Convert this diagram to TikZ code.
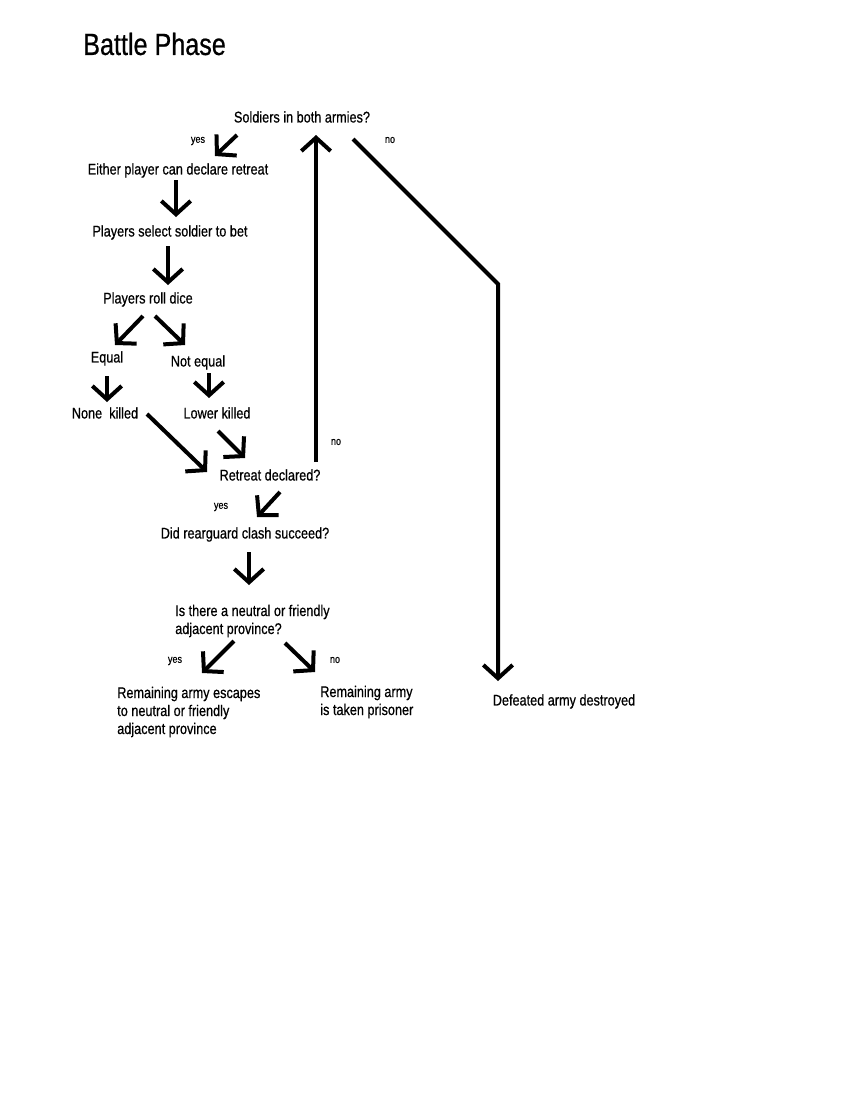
\documentclass[tikz,border=0pt]{standalone}
\usepackage{fontspec}
\setmainfont{Liberation Sans}[FakeStretch=0.82, FakeBold=0.6]
\usetikzlibrary{arrows.meta}
\begin{document}
\begin{tikzpicture}[x=0.75pt,y=-0.75pt,
  txt/.style={inner sep=0pt, text height=0.72em, text depth=0.2em,
    font=\fontsize{11.6pt}{13.5pt}\selectfont},
  multi/.style={inner sep=0pt, align=left, anchor=base west,
    font=\fontsize{11.6pt}{13.5pt}\selectfont},
  lbl/.style={inner sep=0pt, font=\fontsize{8.3pt}{9pt}\selectfont},
  arr/.style={line width=3pt, line join=miter,
    -{Straight Barb[length=10pt,width=22pt,line width=3pt]}}]
\useasboundingbox[fill=white] (0,0) rectangle (850,1100);

% heading
\node[inner sep=0pt, anchor=west, font=\fontsize{23pt}{26pt}\selectfont] (title) at (83,44) {Battle Phase};

% steps of the phase
\node[txt] (S)  at (302,119) {Soldiers in both armies?};
\node[txt] (E)  at (178,171) {Either player can declare retreat};
\node[txt] (P)  at (170,233) {Players select soldier to bet};
\node[txt] (R)  at (148,300) {Players roll dice};
\node[txt] (Eq) at (107,359) {Equal};
\node[txt] (NE) at (198,363) {Not equal};
\node[txt] (NK) at (105,415) {None\ \ killed};
\node[txt] (LK) at (217,415) {Lower killed};
\node[txt] (RD) at (270,477) {Retreat declared?};
\node[txt] (D)  at (245,535) {Did rearguard clash succeed?};
\node[multi] (IS) at (175,634) {Is there a neutral or friendly\\adjacent province?};
\node[multi] (RE) at (117,734) {Remaining army escapes\\to neutral or friendly\\adjacent province};
\node[multi] (RP) at (320,715) {Remaining army\\is taken prisoner};
\node[txt] (DA) at (564,702) {Defeated army destroyed};

% branch labels
\node[lbl] (y1) at (198,141) {yes};
\node[lbl] (n1) at (390,140) {no};
\node[lbl] (n2) at (336,442) {no};
\node[lbl] (y2) at (221,507) {yes};
\node[lbl] (y3) at (175,661) {yes};
\node[lbl] (n3) at (335,660) {no};

% connectors
\draw[arr] ([shift={(-65,16)}]S.center) -- ([shift={(37,-15)}]E.center);
\draw[arr] ([shift={(-2,9)}]E.center) -- ([shift={(6,-16)}]P.center);
\draw[arr] ([shift={(-2,13)}]P.center) -- ([shift={(20,-15)}]R.center);
\draw[arr] ([shift={(-5,16)}]R.center) -- ([shift={(8,-14)}]Eq.center);
\draw[arr] ([shift={(7,16)}]R.center) -- ([shift={(-13,-18)}]NE.center);
\draw[arr] ([shift={(0,17)}]Eq.center) -- ([shift={(2,-13)}]NK.center);
\draw[arr] ([shift={(11,10)}]NE.center) -- ([shift={(-8,-17)}]LK.center);
\draw[arr] ([shift={(42,-1)}]NK.center) -- ([shift={(-63,-5)}]RD.center);
\draw[arr] ([shift={(1,16)}]LK.center) -- ([shift={(-25,-19)}]RD.center);
\draw[arr] ([shift={(46,-15)}]RD.center) -- ([shift={(14,16)}]S.center);
\coordinate (bend) at (498,284);
\draw[arr] ([shift={(51,20)}]S.center) -- (bend) -- ([shift={(-66,-21)}]DA.center);
\draw[arr] ([shift={(10,15)}]RD.center) -- ([shift={(12,-18)}]D.center);
\draw[arr] ([shift={(4,17)}]D.center) -- ([shift={(74,-49)}]IS.base west);
\draw[arr] ([shift={(59,7)}]IS.base west) -- ([shift={(85,-61)}]RE.base west);
\draw[arr] ([shift={(110,9)}]IS.base west) -- ([shift={(-5,-43)}]RP.base west);
\end{tikzpicture}
\end{document}
